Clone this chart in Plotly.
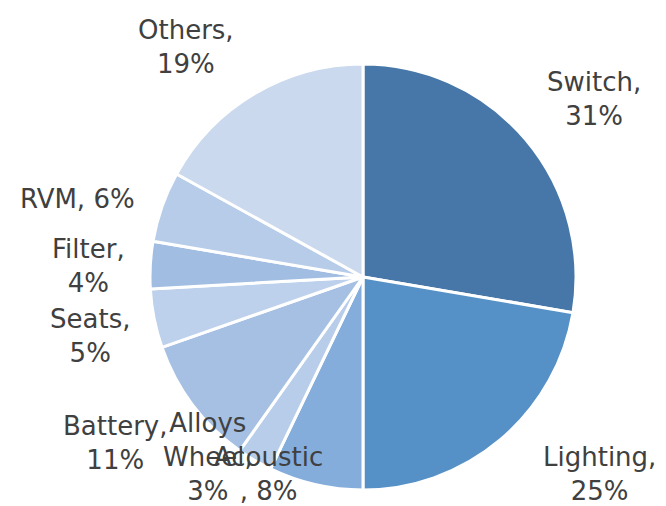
import plotly.graph_objects as go

categories = ["Switch", "Lighting", "Acoustic", "Alloys Wheel", "Battery", "Seats", "Filter", "RVM", "Others"]
values = [31, 25, 8, 3, 11, 5, 4, 6, 19]
label_texts = ["Switch,<br>31%", "Lighting,<br>25%", "Acoustic<br>, 8%", "Alloys<br>Wheel,<br>3%",
               "Battery,<br>11%", "Seats,<br>5%", "Filter,<br>4%", "RVM, 6%", "Others,<br>19%"]
colors = ["#4677A8", "#5591C7", "#84ADDB", "#B8CDEA", "#A5C0E3", "#BDD1EC", "#A2BDE2", "#B7CCE9", "#CAD9EE"]

# label centre positions in pixels (x, y from top)
label_pos = [(594, 99), (599, 474), (268, 474), (208, 457), (116, 443), (90, 336), (88, 266), (77, 199), (186, 47)]

W, H = 666, 506
cx, cy, r = 363, 277, 213

fig = go.Figure(go.Pie(
    labels=categories,
    values=values,
    sort=False,
    direction="clockwise",
    rotation=0,
    marker=dict(colors=colors, line=dict(color="white", width=3)),
    textinfo="none",
    hoverinfo="label+value",
    showlegend=False,
    domain=dict(x=[(cx - r) / W, (cx + r) / W], y=[(H - cy - r) / H, (H - cy + r) / H]),
))

for t, (px, py) in zip(label_texts, label_pos):
    fig.add_annotation(x=px / W, y=1 - py / H, xref="paper", yref="paper",
                       text=t, showarrow=False, xanchor="center", yanchor="middle",
                       align="center", font=dict(family="DejaVu Sans", size=26, color="#404040"))

fig.update_layout(width=W, height=H, margin=dict(l=0, r=0, t=0, b=0),
                  paper_bgcolor="white", plot_bgcolor="white")
fig.write_html("out.html", config={"displayModeBar": False},
               post_script="document.body.style.margin='0';")
